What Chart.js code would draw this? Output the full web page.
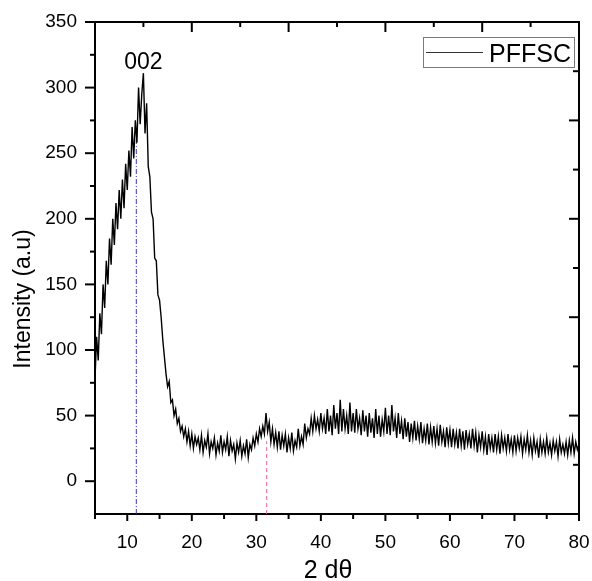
<!DOCTYPE html>
<html>
<head>
<meta charset="utf-8">
<script src="https://cdn.jsdelivr.net/npm/chart.js@4"></script>
<style>
  body { margin: 0; background: #fff; }
  #wrap { width: 592px; height: 581px; }
</style>
</head>
<body>
<div id="wrap"><canvas id="grafico" width="592" height="581"></canvas></div>
<script>
// 2θ (graus), passo de 0.25
const angulos = [
  5,5.25,5.5,5.75, 6,6.25,6.5,6.75, 7,7.25,7.5,7.75, 8,8.25,8.5,8.75, 9,9.25,9.5,9.75,
  10,10.25,10.5,10.75, 11,11.25,11.5,11.75, 12,12.25,12.5,12.75, 13,13.25,13.5,13.75, 14,14.25,14.5,14.75,
  15,15.25,15.5,15.75, 16,16.25,16.5,16.75, 17,17.25,17.5,17.75, 18,18.25,18.5,18.75, 19,19.25,19.5,19.75,
  20,20.25,20.5,20.75, 21,21.25,21.5,21.75, 22,22.25,22.5,22.75, 23,23.25,23.5,23.75, 24,24.25,24.5,24.75,
  25,25.25,25.5,25.75, 26,26.25,26.5,26.75, 27,27.25,27.5,27.75, 28,28.25,28.5,28.75, 29,29.25,29.5,29.75,
  30,30.25,30.5,30.75, 31,31.25,31.5,31.75, 32,32.25,32.5,32.75, 33,33.25,33.5,33.75, 34,34.25,34.5,34.75,
  35,35.25,35.5,35.75, 36,36.25,36.5,36.75, 37,37.25,37.5,37.75, 38,38.25,38.5,38.75, 39,39.25,39.5,39.75,
  40,40.25,40.5,40.75, 41,41.25,41.5,41.75, 42,42.25,42.5,42.75, 43,43.25,43.5,43.75, 44,44.25,44.5,44.75,
  45,45.25,45.5,45.75, 46,46.25,46.5,46.75, 47,47.25,47.5,47.75, 48,48.25,48.5,48.75, 49,49.25,49.5,49.75,
  50,50.25,50.5,50.75, 51,51.25,51.5,51.75, 52,52.25,52.5,52.75, 53,53.25,53.5,53.75, 54,54.25,54.5,54.75,
  55,55.25,55.5,55.75, 56,56.25,56.5,56.75, 57,57.25,57.5,57.75, 58,58.25,58.5,58.75, 59,59.25,59.5,59.75,
  60,60.25,60.5,60.75, 61,61.25,61.5,61.75, 62,62.25,62.5,62.75, 63,63.25,63.5,63.75, 64,64.25,64.5,64.75,
  65,65.25,65.5,65.75, 66,66.25,66.5,66.75, 67,67.25,67.5,67.75, 68,68.25,68.5,68.75, 69,69.25,69.5,69.75,
  70,70.25,70.5,70.75, 71,71.25,71.5,71.75, 72,72.25,72.5,72.75, 73,73.25,73.5,73.75, 74,74.25,74.5,74.75,
  75,75.25,75.5,75.75, 76,76.25,76.5,76.75, 77,77.25,77.5,77.75, 78,78.25,78.5,78.75, 79,79.25,79.5,79.75,
  80
];

// Intensidade (a.u)
const intensidade = [
  78,110,92,128, 112,150,132,168, 150,185,165,200, 180,212,192,222, 200,230,208,242,
  222,252,232,270, 246,275,258,300, 272,295,311,265, 288,240,232,205, 200,170,168,142,
  138,125,108,95, 82,72,76,60, 62,50,55,44, 48,38,42,34, 40,30,38,27,
  36,25,34,28, 33,24,35,22, 31,26,36,21, 30,25,33,20, 29,23,35,22,
  30,24,34,19, 31,23,28,17, 29,22,31,19, 27,21,32,18, 28,24,33,27,
  36,30,40,34, 42,36,52,38, 45,30,40,28, 37,26,38,24, 35,27,36,22,
  33,25,37,23, 31,26,40,27, 34,28,44,33, 40,36,48,38, 50,40,47,38,
  52,40,48,36, 55,38,50,35, 58,40,52,36, 62,38,55,40, 50,36,60,38,
  52,37,55,40, 48,35,54,38, 50,34,52,37, 48,33,55,36, 50,34,47,38,
  56,36,50,35, 58,38,48,33, 52,36,46,32, 48,34,45,30, 44,33,46,31,
  42,32,45,29, 40,31,44,28, 41,30,42,29, 40,27,43,30, 38,26,41,29,
  39,26,40,28, 37,25,40,27, 38,24,39,28, 36,25,40,27, 37,22,35,26,
  38,24,34,20, 36,25,33,22, 36,24,34,21, 35,25,33,23, 36,24,32,22,
  35,23,33,25, 34,21,32,24, 35,22,31,20, 33,23,30,18, 32,22,30,21,
  33,22,29,20, 31,23,30,19, 32,22,28,21, 30,20,31,22, 33,21,30,24,
  28
];

// Linhas de referência (posição 2θ e altura)
const linhaAzul = { x: 11.4, topo: 261 };
const linhaRosa = { x: 31.6, topo: 30.5 };
const picoRotulo = { texto: '002', x: 12.5, y: 314 };

// Marcas dos eixos
const xMaiores = [10, 20, 30, 40, 50, 60, 70, 80];
const xMenores = [5, 15, 25, 35, 45, 55, 65, 75];
const yMaiores = [0, 50, 100, 150, 200, 250, 300, 350];
const yMenores = [25, 75, 125, 175, 225, 275, 325];
const topoMaiores = [5, 20, 35, 50, 65, 80];
const topoMenores = [12.5, 27.5, 42.5, 57.5, 72.5];
const direitaMaiores = [-25, 50, 125, 200, 275, 350];
const direitaMenores = [12.5, 87.5, 162.5, 237.5, 312.5];

const fonte = '"Liberation Sans", Arial, sans-serif';

// Desenha moldura, marcas, legenda e títulos
const extras = {
    id: 'extras',
    afterDraw(chart) {
        const ctx = chart.ctx;
        const a = chart.chartArea;
        const sx = chart.scales.x;
        const sy = chart.scales.y;
        ctx.save();
        ctx.strokeStyle = '#000';
        ctx.lineWidth = 2;

        // bordas superior e direita
        ctx.beginPath();
        ctx.moveTo(a.left - 1, a.top);
        ctx.lineTo(a.right, a.top);
        ctx.lineTo(a.right, a.bottom + 1);
        ctx.stroke();

        function marca(x1, y1, x2, y2) {
            ctx.beginPath();
            ctx.moveTo(x1, y1);
            ctx.lineTo(x2, y2);
            ctx.stroke();
        }
        // esquerda (para fora)
        yMaiores.forEach(v => { const p = sy.getPixelForValue(v); marca(a.left, p, a.left - 10, p); });
        yMenores.forEach(v => { const p = sy.getPixelForValue(v); marca(a.left, p, a.left - 5, p); });
        // baixo (para fora)
        xMaiores.forEach(v => { const p = sx.getPixelForValue(v); marca(p, a.bottom, p, a.bottom + 7); });
        xMenores.forEach(v => { const p = sx.getPixelForValue(v); marca(p, a.bottom, p, a.bottom + 5); });
        // topo (para dentro)
        topoMaiores.forEach(v => { const p = sx.getPixelForValue(v); marca(p, a.top, p, a.top + 10); });
        topoMenores.forEach(v => { const p = sx.getPixelForValue(v); marca(p, a.top, p, a.top + 5); });
        // direita (para dentro)
        direitaMaiores.forEach(v => { const p = sy.getPixelForValue(v); marca(a.right, p, a.right - 10, p); });
        direitaMenores.forEach(v => { const p = sy.getPixelForValue(v); marca(a.right, p, a.right - 6, p); });

        // legenda
        ctx.lineWidth = 1;
        ctx.strokeStyle = '#7a7a7a';
        ctx.strokeRect(423.5, 37.5, 151, 30);
        ctx.strokeStyle = '#333';
        marca(426, 52.5, 483, 52.5);
        ctx.fillStyle = '#000';
        ctx.font = '25px ' + fonte;
        ctx.textAlign = 'left';
        ctx.textBaseline = 'alphabetic';
        ctx.fillText('PFFSC', 489, 62);

        // rótulo do pico
        ctx.font = '23px ' + fonte;
        ctx.textAlign = 'center';
        ctx.fillText(picoRotulo.texto, sx.getPixelForValue(picoRotulo.x), sy.getPixelForValue(picoRotulo.y));

        // títulos dos eixos
        ctx.font = '25px ' + fonte;
        ctx.fillText('2 dθ', 328, 578);
        ctx.save();
        ctx.translate(30, 299);
        ctx.rotate(-Math.PI / 2);
        ctx.font = '23px ' + fonte;
        ctx.fillText('Intensity (a.u)', 0, 0);
        ctx.restore();

        ctx.restore();
    }
};

function criarGrafico() {
    const ctx = document.getElementById('grafico').getContext('2d');
    new Chart(ctx, {
        type: 'line',
        data: {
            datasets: [
                {
                    label: 'PFFSC',
                    data: angulos.map((x, i) => ({ x: x, y: intensidade[i] })),
                    borderColor: '#000',
                    borderWidth: 1.4,
                    pointRadius: 0,
                    tension: 0
                },
                {
                    data: [{ x: linhaAzul.x, y: -25 }, { x: linhaAzul.x, y: linhaAzul.topo }],
                    borderColor: '#3535c0',
                    borderWidth: 1,
                    borderDash: [5, 2, 1, 2],
                    pointRadius: 0
                },
                {
                    data: [{ x: linhaRosa.x, y: -25 }, { x: linhaRosa.x, y: linhaRosa.topo }],
                    borderColor: '#f0609a',
                    borderWidth: 1,
                    borderDash: [4, 3],
                    pointRadius: 0
                }
            ]
        },
        options: {
            responsive: false,
            animation: false,
            devicePixelRatio: 1,
            layout: { padding: { left: 0, right: 13, top: 22, bottom: 0 } },
            plugins: {
                legend: { display: false },
                tooltip: { enabled: false }
            },
            scales: {
                x: {
                    type: 'linear',
                    min: 5,
                    max: 80,
                    afterBuildTicks: s => { s.ticks = xMaiores.map(v => ({ value: v })); },
                    afterFit: s => { s.height = 67; s.paddingLeft = 0; s.paddingRight = 0; },
                    grid: { display: false, drawTicks: true, tickLength: 7 },
                    border: { display: true, color: '#000', width: 2 },
                    ticks: {
                        autoSkip: false,
                        maxRotation: 0,
                        padding: 10,
                        color: '#000',
                        font: { family: fonte, size: 19 }
                    }
                },
                y: {
                    type: 'linear',
                    min: -25,
                    max: 350,
                    afterBuildTicks: s => { s.ticks = yMaiores.map(v => ({ value: v })); },
                    afterFit: s => { s.width = 95; s.paddingTop = 0; s.paddingBottom = 0; },
                    grid: { display: false, drawTicks: true, tickLength: 10 },
                    border: { display: true, color: '#000', width: 2 },
                    ticks: {
                        autoSkip: false,
                        padding: 8,
                        color: '#000',
                        font: { family: fonte, size: 19 }
                    }
                }
            }
        },
        plugins: [extras]
    });
}

document.addEventListener('DOMContentLoaded', criarGrafico);
</script>
</body>
</html>
